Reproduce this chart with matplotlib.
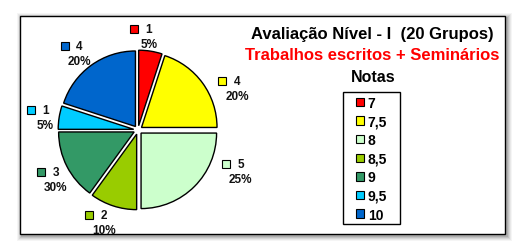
import matplotlib
matplotlib.use("Agg")
import matplotlib.pyplot as plt
from matplotlib.patches import Rectangle, Patch
import numpy as np

# data
notas = ['7', '7,5', '8', '8,5', '9', '9,5', '10']
grupos = [1, 4, 5, 2, 3, 1, 4]
pct_labels = ['5%', '20%', '25%', '10%', '30%', '5%', '20%']
cores = ['#FF0000', '#FFFF00', '#CCFFCC', '#99CC00', '#339966', '#00CCFF', '#0066CC']

plt.rcParams['font.family'] = ['Liberation Sans', 'DejaVu Sans']
plt.rcParams['font.weight'] = 'bold'

fig = plt.figure(figsize=(5.27, 2.53), dpi=100)
W, H = 527, 253

def fx(px):
    return px / W

def fy(py):
    return 1 - py / H

# frame with soft shadow
x0, y0, x1, y1 = 20, 17, 505, 235
for i, a in enumerate([0.04, 0.05, 0.07, 0.09, 0.11]):
    d = 6 - i
    fig.patches.append(Rectangle((fx(x0 - d + 3), fy(y1 + d + 1)),
                                 fx(x1 - x0 + 2 * d - 2), (y1 - y0 + 2 * d - 2) / H,
                                 transform=fig.transFigure, facecolor='black',
                                 edgecolor='none', alpha=a, zorder=0))
fig.patches.append(Rectangle((fx(x0), fy(y1)), fx(x1 - x0), (y1 - y0) / H,
                             transform=fig.transFigure, facecolor='white',
                             edgecolor='black', linewidth=1.0, zorder=1))

# pie axes, centre at about (138, 131) px
cx, cy, half = 138, 131, 118
ax = fig.add_axes([fx(cx - half), fy(cy + half), fx(2 * half), 2 * half / H])
ax.set_zorder(2)
ax.patch.set_alpha(0)
wedges, _ = ax.pie(grupos, colors=cores, startangle=90, counterclock=False,
                   explode=[0.055] * len(grupos), radius=0.96,
                   wedgeprops=dict(edgecolor='black', linewidth=1.0))
ax.set_xlim(-1.5, 1.5)
ax.set_ylim(-1.5, 1.5)
ax.set_aspect('equal')
ax.axis('off')

# data labels, placed around each wedge's mid angle (radius, angle shift in degrees)
label_r = [1.22, 1.365, 1.39, 1.23, 1.22, 1.2, 1.25]
label_shift = [3, -12, 24, -3, 3, 0, 1]
for w, n, p, c, r, s in zip(wedges, grupos, pct_labels, cores, label_r, label_shift):
    ang = np.deg2rad((w.theta1 + w.theta2) / 2 + s)
    lx, ly = r * np.cos(ang) + 0.01, r * np.sin(ang) - 0.025
    ax.plot(lx - 0.19, ly + 0.095, marker='s', markersize=5.5, markerfacecolor=c,
            markeredgecolor='black', markeredgewidth=0.8, clip_on=False)
    ax.text(lx, ly + 0.095, str(n), ha='center', va='center', fontsize=8.5,
            color='#111111')
    ax.text(lx, ly - 0.095, p, ha='center', va='center', fontsize=8.5,
            color='#111111')

# titles
fig.text(fx(372), fy(35), 'Avaliação Nível - I  (20 Grupos)', ha='center', va='center',
         fontsize=12, color='black', zorder=3)
fig.text(fx(372), fy(56), 'Trabalhos escritos + Seminários', ha='center', va='center',
         fontsize=12, color='#FF0000', zorder=3)
fig.text(fx(373), fy(78), 'Notas', ha='center', va='center',
         fontsize=11.5, color='black', zorder=3)

# legend frame drawn separately, entries from the library
fig.patches.append(Rectangle((fx(343), fy(225)), fx(57), (225 - 93) / H,
                             transform=fig.transFigure, facecolor='white',
                             edgecolor='black', linewidth=1.0, zorder=2))
handles = [Patch(facecolor=c, edgecolor='black', linewidth=0.8) for c in cores]
leg = fig.legend(handles, notas, loc='upper left',
                 bbox_to_anchor=(fx(356), fy(97)), bbox_transform=fig.transFigure,
                 fontsize=10, frameon=False, borderpad=0.0,
                 handlelength=0.55, handleheight=0.55, handletextpad=0.3,
                 labelspacing=0.33, borderaxespad=0)
leg.set_zorder(3)

fig.savefig('out.png', dpi=100, facecolor='white')
